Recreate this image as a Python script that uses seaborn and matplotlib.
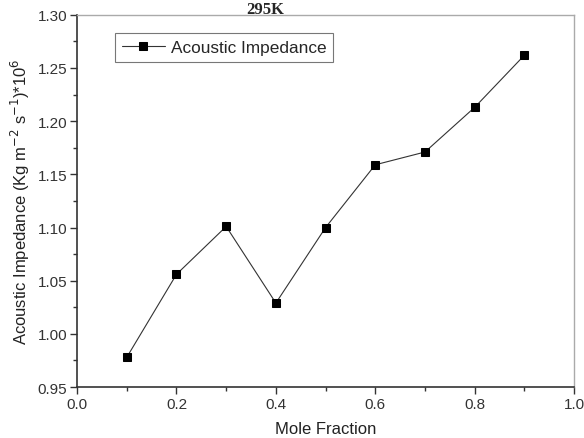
import matplotlib
matplotlib.use("Agg")
import matplotlib.pyplot as plt
import seaborn as sns
import pandas as pd
from matplotlib.ticker import MultipleLocator

mole_fraction = [0.1, 0.2, 0.3, 0.4, 0.5, 0.6, 0.7, 0.8, 0.9]
impedance = [0.978, 1.056, 1.101, 1.029, 1.100, 1.159, 1.171, 1.213, 1.262]
series_name = "Acoustic Impedance"

df = pd.DataFrame({"x": mole_fraction, "y": impedance})

sns.set_theme(style="white")
plt.rcParams['font.family'] = ['Liberation Sans', 'DejaVu Sans']

fig = plt.figure(figsize=(5.84, 4.39), dpi=100)
ax = fig.add_axes([0.132, 0.116, 0.851, 0.848])

sns.lineplot(data=df, x="x", y="y", ax=ax, color="#333333", linewidth=0.8,
             marker="s", markersize=6, markerfacecolor="black",
             markeredgecolor="black", label=series_name)

ax.set_xlim(0.0, 1.0)
ax.set_ylim(0.95, 1.30)
ax.xaxis.set_major_locator(MultipleLocator(0.2))
ax.xaxis.set_minor_locator(MultipleLocator(0.1))
ax.yaxis.set_major_locator(MultipleLocator(0.05))
ax.yaxis.set_minor_locator(MultipleLocator(0.025))
ax.set_xticklabels([f"{v:.1f}" for v in ax.get_xticks()])
ax.set_yticklabels([f"{v:.2f}" for v in ax.get_yticks()])

ax.tick_params(axis="both", which="major", direction="out", length=5, width=1,
               colors="#333333", labelsize=11, bottom=True, left=True, pad=2)
ax.tick_params(axis="both", which="minor", direction="out", length=3, width=1,
               colors="#333333", bottom=True, left=True)
for lab in ax.get_xticklabels() + ax.get_yticklabels():
    lab.set_color("#333333")

for s in ["left", "bottom"]:
    ax.spines[s].set_color("#333333")
    ax.spines[s].set_linewidth(1.2)
for s in ["top", "right"]:
    ax.spines[s].set_color("#aaaaaa")
    ax.spines[s].set_linewidth(1.0)

ax.set_xlabel("Mole Fraction", fontsize=12, color="#222222", labelpad=7)
ax.set_ylabel("Acoustic Impedance (Kg m$^{-2}$ s$^{-1}$)*10$^{6}$", fontsize=12,
              color="#222222", labelpad=4)

leg = ax.legend(loc="upper left", bbox_to_anchor=(0.076, 0.95), fontsize=12.4,
                frameon=True, fancybox=False, handlelength=2.5,
                borderpad=0.4, handletextpad=0.35, borderaxespad=0)
leg.get_frame().set_edgecolor("#555555")
leg.get_frame().set_linewidth(0.8)

fig.text(265 / 584, 1 - 14 / 439, "295K", fontsize=12, fontweight="bold",
         family=["Liberation Serif", "DejaVu Serif"], ha="center", va="baseline")

fig.savefig("out.png", dpi=100)
